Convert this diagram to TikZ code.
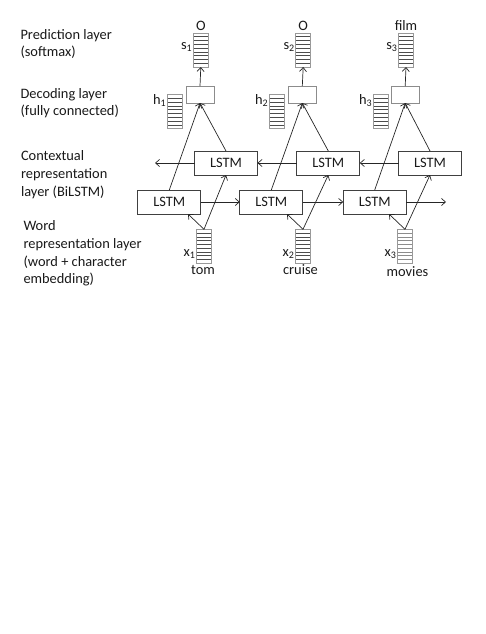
\documentclass[tikz,border=0pt]{standalone}
\usepackage{fontspec}
\setmainfont{Carlito}
\usetikzlibrary{calc,arrows.meta}
\newcommand{\fsz}{\fontsize{14.4}{17.7}\selectfont}
\begin{document}
\begin{tikzpicture}[x=1pt,y=-1pt,
  every node/.style={inner sep=0pt, outer sep=0pt, text=black!90},
  lstmbox/.style={draw=black!75, line width=0.8pt, minimum width=63pt, minimum height=24pt, font=\fsz},
  decbox/.style={draw=black!45, line width=0.8pt, minimum width=28pt, minimum height=17pt},
  vect/.style={draw=black!40, line width=0.7pt, minimum width=15pt, minimum height=34pt,
    path picture={\foreach \i in {1,...,8}{\draw[#1, line width=0.7pt]
      ($(path picture bounding box.south west)!\i/9!(path picture bounding box.north west)$) --
      ($(path picture bounding box.south east)!\i/9!(path picture bounding box.north east)$);}}},
  vect/.default={black!70},
  lbl/.style={font=\fsz, align=left, anchor=north west},
  sym/.style={font=\fsz, anchor=base east},
  word/.style={font=\fsz, anchor=base},
  conn/.style={draw=black!85, line width=0.7pt, -{Straight Barb[length=4pt,width=7pt]}}
]
\useasboundingbox (0,0) rectangle (485,634);

% left labels
\node[lbl] (Lpred) at (20.5,39.3-12.4) {\strut Prediction layer\\(softmax)};
\node[lbl] (Ldec) at (20.5,98.3-12.4) {\strut Decoding layer\\(fully connected)};
\node[lbl] (Lctx) at (21,161-12.4) {\strut Contextual\\representation\\layer (BiLSTM)};
\node[lbl] (Lword) at (23.5,230.7-12.4) {\strut Word\\representation layer\\(word + character\\embedding)};

% column 1
\node[decbox] (d1) at (200,94.5) {};
\node[vect] (s1) at (200.8,50) {};
\node[vect] (h1) at (174.8,111.7) {};
\node[vect] (x1) at (204,246.3) {};
\node[lstmbox] (b1) at (226,163) {LSTM};
\node[lstmbox] (f1) at (169.3,202) {LSTM};
% column 2
\node[decbox] (d2) at (302.3,94.5) {};
\node[vect] (s2) at (303.2,50) {};
\node[vect] (h2) at (276.8,111.7) {};
\node[vect] (x2) at (303,246.3) {};
\node[lstmbox] (b2) at (328.3,163) {LSTM};
\node[lstmbox] (f2) at (271.3,202) {LSTM};
% column 3
\node[decbox] (d3) at (405.2,94.5) {};
\node[vect] (s3) at (406,50) {};
\node[vect] (h3) at (380.7,111.7) {};
\node[vect={black!45}] (x3) at (405,246.3) {};
\node[lstmbox] (b3) at (430,163) {LSTM};
\node[lstmbox] (f3) at (374.7,202) {LSTM};

% output labels
\node[word] (o1) at (200.8,31) {O};
\node[word] (o2) at (303.2,31) {O};
\node[word] (o3) at (406,31) {film};
% vector symbols
\node[sym] (ls1) at ($(s1.west)+(-1,-1)$) {s\textsubscript{1}};
\node[sym] (ls2) at ($(s2.west)+(-1,-1)$) {s\textsubscript{2}};
\node[sym] (ls3) at ($(s3.west)+(-1,-1)$) {s\textsubscript{3}};
\node[sym] (lh1) at ($(h1.north west)+(-1,10)$) {h\textsubscript{1}};
\node[sym] (lh2) at ($(h2.north west)+(-1,10)$) {h\textsubscript{2}};
\node[sym] (lh3) at ($(h3.north west)+(-1,10)$) {h\textsubscript{3}};
\node[sym] (lx1) at ($(x1.west)+(-1,10.5)$) {x\textsubscript{1}};
\node[sym] (lx2) at ($(x2.west)+(-1,10.5)$) {x\textsubscript{2}};
\node[sym] (lx3) at ($(x3.west)+(-1,10.5)$) {x\textsubscript{3}};
% words
\node[word] (w1) at (203,274.5) {tom};
\node[word] (w2) at (300.5,274.5) {cruise};
\node[word] (w3) at (407.5,276.5) {movies};

\coordinate (fend) at (446,202);
\coordinate (bend) at (155,163);

\foreach \i in {1,2,3}{
  \path[conn] (d\i.north) -- (s\i.south);
  \path[conn] (f\i.north) -- (d\i.south);
  \path[conn] (b\i.north) -- (d\i.south);
  \path[conn] (x\i.north) -- (b\i.south);
  \path[conn] (x\i.north) -- ($(x\i.north |- f\i.south)+(-16,0)$);
}
\path[conn] (f1.east) -- (f2.west);
\path[conn] (f2.east) -- (f3.west);
\path[conn] (f3.east) -- (fend);
\path[conn] (b3.west) -- (b2.east);
\path[conn] (b2.west) -- (b1.east);
\path[conn] (b1.west) -- (bend);
\end{tikzpicture}
\end{document}
